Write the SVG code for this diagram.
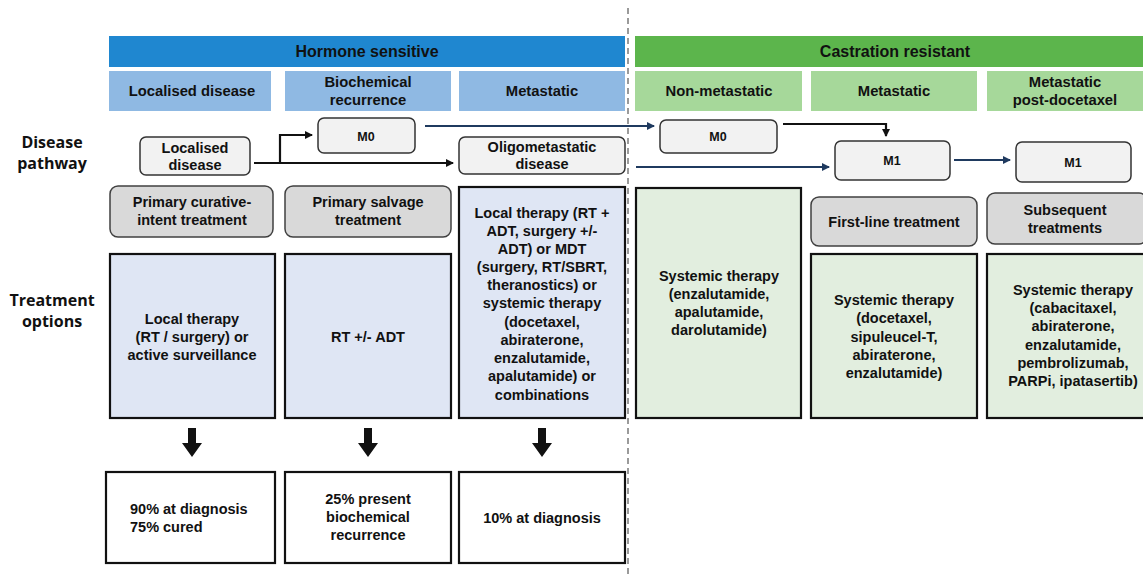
<svg xmlns="http://www.w3.org/2000/svg" width="1143" height="578" viewBox="0 0 1143 578">
<defs>
<style>
text{font-family:"Liberation Sans",Arial,sans-serif;font-weight:bold;fill:#111;text-anchor:middle}
.h1{font-size:16px}
.h2{font-size:14.8px}
.t{font-size:14.5px}
.side{font-family:"Open Sans","Noto Sans",sans-serif;font-size:16px;font-weight:bold}
.hs{fill:#1f87d0}
.cr{fill:#5cb54c}
.hsub{fill:#8fb9e3}
.csub{fill:#a6d89a}
.path{fill:#f2f2f2;stroke:#333;stroke-width:1.5}
.gray{fill:#d9d9d9;stroke:#404040;stroke-width:1.5}
.bopt{fill:#dfe6f4;stroke:#111;stroke-width:2.2}
.gopt{fill:#e2eedf;stroke:#111;stroke-width:2.2}
.out{fill:#fff;stroke:#111;stroke-width:2.2}
.cn{fill:none;stroke-width:2.2}
</style>
<marker id="ah" markerWidth="8" markerHeight="8" refX="7" refY="4" orient="auto" markerUnits="userSpaceOnUse"><path d="M0,0 L8,4 L0,8 z" fill="#111"/></marker>
<marker id="ahb" markerWidth="8" markerHeight="8" refX="7" refY="4" orient="auto" markerUnits="userSpaceOnUse"><path d="M0,0 L8,4 L0,8 z" fill="#1f3a5f"/></marker>
</defs>
<rect width="1143" height="578" fill="#fff"/>
<line x1="628" y1="8" x2="628" y2="578" stroke="#9a9a9a" stroke-width="2" stroke-dasharray="6,4"/>

<g id="hdr-hormone"><rect class="hs" x="109" y="36" width="516" height="31"/><text class="h1" x="367" y="57">Hormone sensitive</text></g>
<g id="hdr-castration"><rect class="cr" x="635" y="36" width="508" height="31"/><text class="h1" x="895" y="57">Castration resistant</text></g>
<g id="sub-localised"><rect class="hsub" x="109" y="71" width="162" height="40"/><text class="h2" x="192" y="96">Localised disease</text></g>
<g id="sub-biochem"><rect class="hsub" x="285" y="71" width="166" height="40"/><text class="h2" x="368" y="87">Biochemical</text><text class="h2" x="368" y="105">recurrence</text></g>
<g id="sub-metastatic"><rect class="hsub" x="459" y="71" width="166" height="40"/><text class="h2" x="542" y="96">Metastatic</text></g>
<g id="sub-nonmet"><rect class="csub" x="635" y="71" width="167" height="40"/><text class="h2" x="719" y="96">Non-metastatic</text></g>
<g id="sub-met"><rect class="csub" x="811" y="71" width="166" height="40"/><text class="h2" x="894" y="96">Metastatic</text></g>
<g id="sub-postdoc"><rect class="csub" x="987" y="71" width="156" height="40"/><text class="h2" x="1065" y="87">Metastatic</text><text class="h2" x="1065" y="105">post-docetaxel</text></g>

<g id="lbl-pathway"><text class="side" x="52" y="148">Disease</text><text class="side" x="52" y="169">pathway</text></g>
<g id="lbl-treatment"><text class="side" x="52" y="306">Treatment</text><text class="side" x="52" y="327">options</text></g>

<g id="n-localised"><rect class="path" x="140" y="137" width="110" height="38" rx="6"/><text class="t" x="195" y="153">Localised</text><text class="t" x="195" y="170">disease</text></g>
<g id="n-m0a"><rect class="path" x="318" y="118" width="97" height="35" rx="6"/><text class="t" x="366" y="141" style="font-size:12.5px">M0</text></g>
<g id="n-oligo"><rect class="path" x="459" y="137" width="166" height="37" rx="6"/><text class="t" x="542" y="152">Oligometastatic</text><text class="t" x="542" y="169">disease</text></g>
<g id="n-m0b"><rect class="path" x="660" y="120" width="117" height="33" rx="6"/><text class="t" x="718" y="141" style="font-size:12.5px">M0</text></g>
<g id="n-m1a"><rect class="path" x="835" y="141" width="115" height="39" rx="6"/><text class="t" x="892" y="165" style="font-size:12.5px">M1</text></g>
<g id="n-m1b"><rect class="path" x="1016" y="142" width="115" height="40" rx="6"/><text class="t" x="1073" y="167" style="font-size:12.5px">M1</text></g>

<g id="connectors">
<path class="cn" d="M254,163 L453,163" stroke="#111" marker-end="url(#ah)"/>
<path class="cn" d="M280,163 L280,135 L312,135" stroke="#111" marker-end="url(#ah)"/>
<path class="cn" d="M425,126 L654,126" stroke="#1f3a5f" marker-end="url(#ahb)"/>
<path class="cn" d="M636,167 L829,167" stroke="#1f3a5f" marker-end="url(#ahb)"/>
<path class="cn" d="M783,124 L886,124 L886,136" stroke="#111" marker-end="url(#ah)"/>
<path class="cn" d="M954,160 L1010,160" stroke="#1f3a5f" marker-end="url(#ahb)"/>
<polygon points="188,428 196,428 196,443 202,443 192,457 182,443 188,443" fill="#111"/>
<polygon points="364,428 372,428 372,443 378,443 368,457 358,443 364,443" fill="#111"/>
<polygon points="538,428 546,428 546,443 552,443 542,457 532,443 538,443" fill="#111"/>
</g>

<g id="g-curative"><rect class="gray" x="110" y="186" width="163" height="51" rx="8"/><text class="t" x="192" y="207">Primary curative-</text><text class="t" x="192" y="225">intent treatment</text></g>
<g id="g-salvage"><rect class="gray" x="285" y="186" width="166" height="51" rx="8"/><text class="t" x="368" y="207">Primary salvage</text><text class="t" x="368" y="225">treatment</text></g>
<g id="g-firstline"><rect class="gray" x="811" y="197" width="166" height="49" rx="8"/><text class="t" x="894" y="227">First-line treatment</text></g>
<g id="g-subsequent"><rect class="gray" x="987" y="193" width="160" height="51" rx="8"/><text class="t" x="1065" y="215">Subsequent</text><text class="t" x="1065" y="233">treatments</text></g>

<g id="o-local"><rect class="bopt" x="110" y="254" width="165" height="164"/><text class="t" x="192" y="324">Local therapy</text><text class="t" x="192" y="342">(RT / surgery) or</text><text class="t" x="192" y="360">active surveillance</text></g>
<g id="o-rt"><rect class="bopt" x="285" y="254" width="166" height="164"/><text class="t" x="368" y="342">RT +/- ADT</text></g>
<g id="o-metlocal"><rect class="bopt" x="459" y="187" width="166" height="231"/>
<text class="t" x="542" y="218">Local therapy (RT +</text><text class="t" x="542" y="236">ADT, surgery +/-</text><text class="t" x="542" y="254">ADT) or MDT</text><text class="t" x="542" y="272">(surgery, RT/SBRT,</text><text class="t" x="542" y="290">theranostics) or</text><text class="t" x="542" y="308">systemic therapy</text><text class="t" x="542" y="327">(docetaxel,</text><text class="t" x="542" y="345">abiraterone,</text><text class="t" x="542" y="363">enzalutamide,</text><text class="t" x="542" y="381">apalutamide) or</text><text class="t" x="542" y="400">combinations</text></g>
<g id="o-nonmet"><rect class="gopt" x="636" y="188" width="165" height="230"/><text class="t" x="719" y="281">Systemic therapy</text><text class="t" x="719" y="299">(enzalutamide,</text><text class="t" x="719" y="317">apalutamide,</text><text class="t" x="719" y="335">darolutamide)</text></g>
<g id="o-firstline"><rect class="gopt" x="811" y="254" width="166" height="164"/><text class="t" x="894" y="305">Systemic therapy</text><text class="t" x="894" y="323">(docetaxel,</text><text class="t" x="894" y="342">sipuleucel-T,</text><text class="t" x="894" y="360">abiraterone,</text><text class="t" x="894" y="378">enzalutamide)</text></g>
<g id="o-subsequent"><rect class="gopt" x="987" y="254" width="160" height="164"/><text class="t" x="1073" y="295">Systemic therapy</text><text class="t" x="1073" y="313">(cabacitaxel,</text><text class="t" x="1073" y="331">abiraterone,</text><text class="t" x="1073" y="350">enzalutamide,</text><text class="t" x="1073" y="368">pembrolizumab,</text><text class="t" x="1073" y="386">PARPi, ipatasertib)</text></g>

<g id="r-localised"><rect class="out" x="106" y="472" width="169" height="91"/><text class="t" x="130" y="514" style="text-anchor:start">90% at diagnosis</text><text class="t" x="130" y="532" style="text-anchor:start">75% cured</text></g>
<g id="r-biochem"><rect class="out" x="285" y="472" width="166" height="91"/><text class="t" x="368" y="504">25% present</text><text class="t" x="368" y="522">biochemical</text><text class="t" x="368" y="540">recurrence</text></g>
<g id="r-met"><rect class="out" x="459" y="472" width="166" height="91"/><text class="t" x="542" y="523">10% at diagnosis</text></g>
</svg>
